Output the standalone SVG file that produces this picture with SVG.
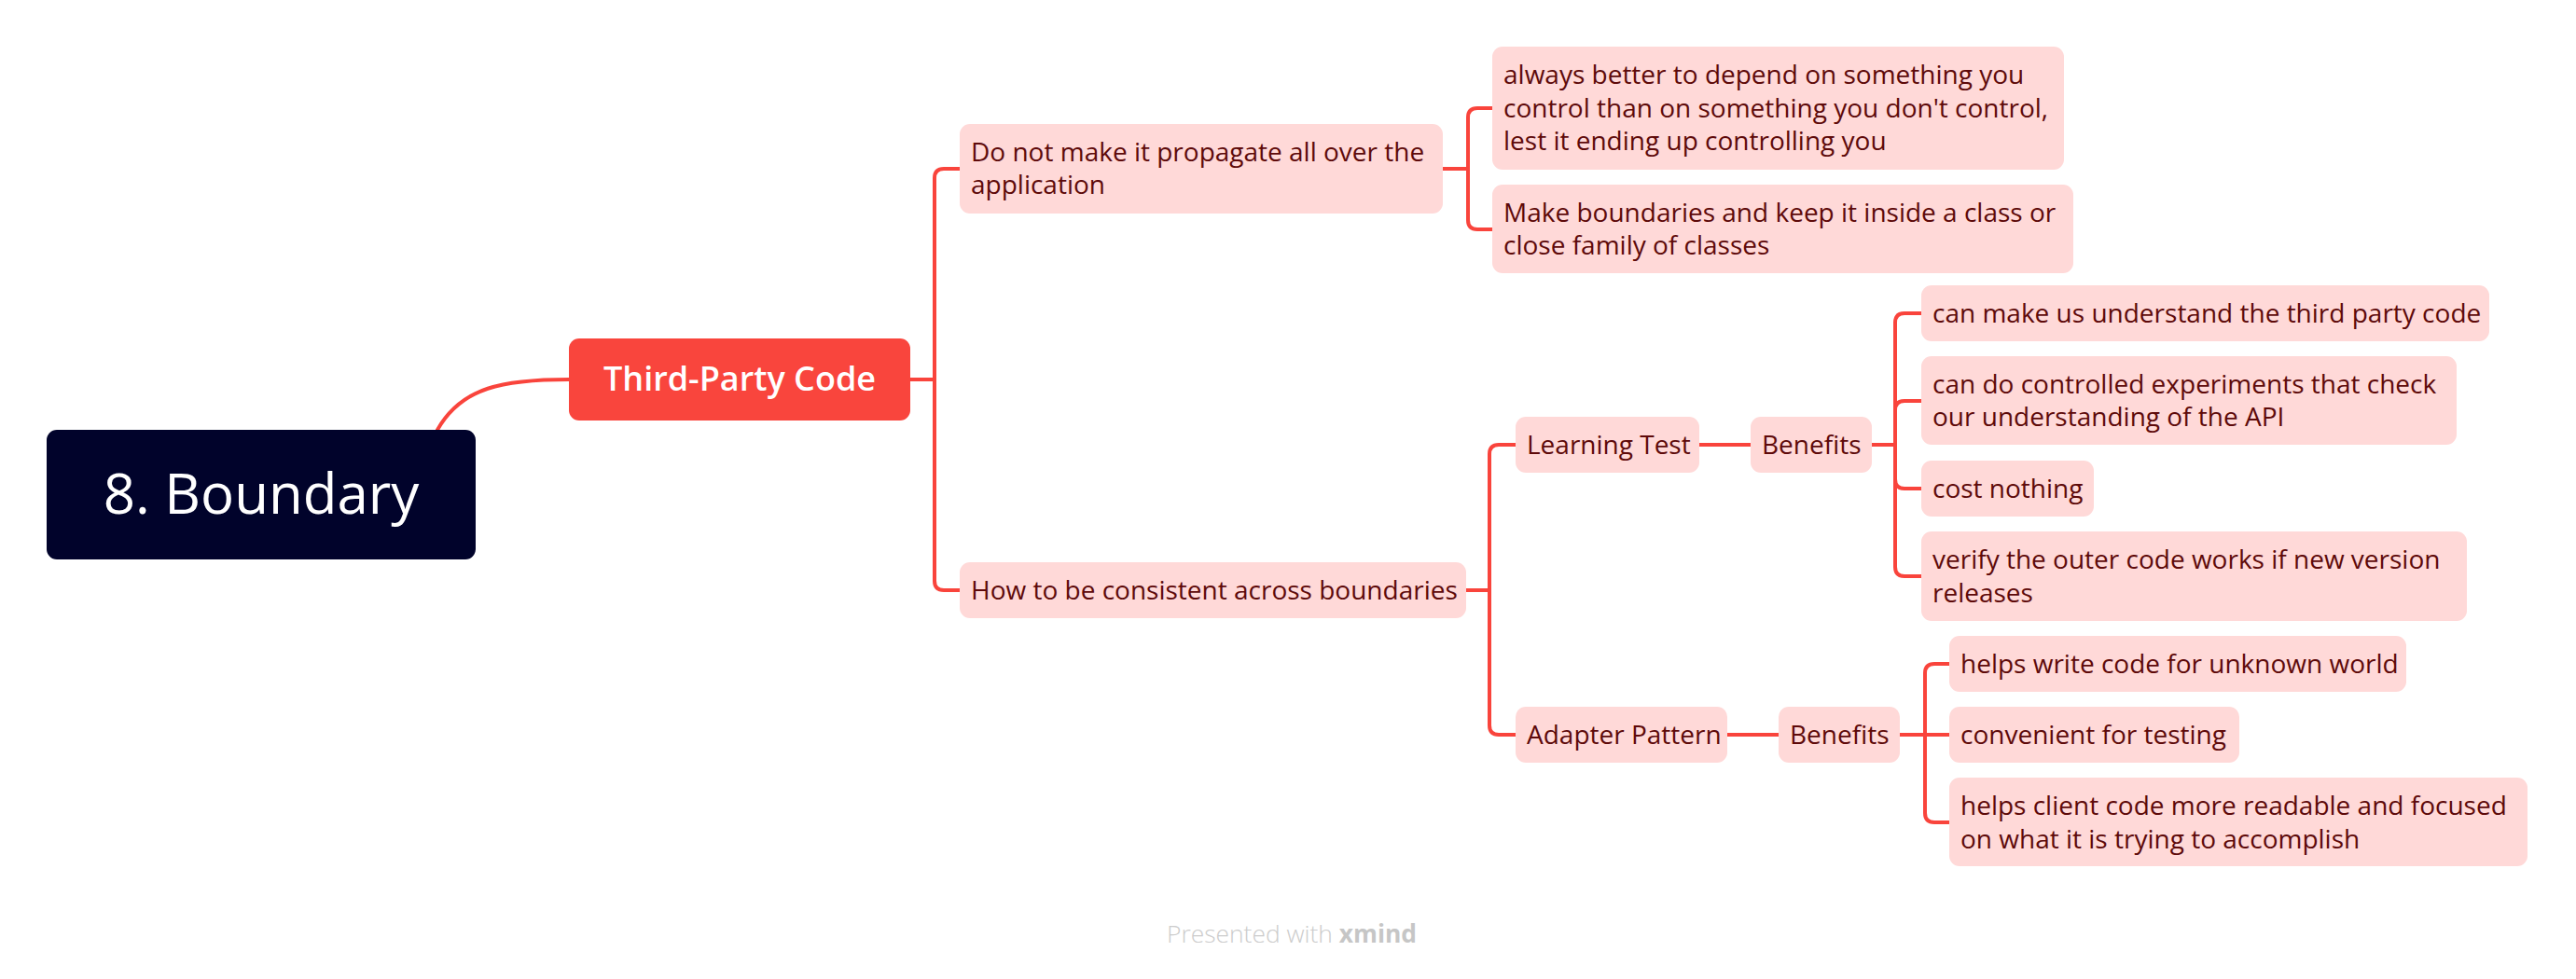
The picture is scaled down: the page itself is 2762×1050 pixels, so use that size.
<svg xmlns="http://www.w3.org/2000/svg" width="2762" height="1050" viewBox="0 0 2762 1050">
<style>
  text { font-family: "Open Sans", "Liberation Sans", sans-serif; }
  .box { fill: #ffd9d8; }
  .t { font-size: 28px; fill: #5e0a0a; }
  .c { fill: none; stroke: #f9443c; stroke-width: 4; stroke-linecap: round; stroke-linejoin: round; }
</style>
<rect width="2762" height="1050" fill="#ffffff"/>
<g id="connectors">
  <path class="c" d="M469 461 C495 415 540 407 610 407" stroke-width="5"/>
  <path class="c" d="M976 407 H1002 V191 Q1002 181 1012 181 H1029"/>
  <path class="c" d="M1002 407 V623 Q1002 633 1012 633 H1029"/>
  <path class="c" d="M1547 181 H1574 V126 Q1574 116 1584 116 H1600"/>
  <path class="c" d="M1574 181 V236 Q1574 246 1584 246 H1600"/>
  <path class="c" d="M1572 633 H1597 V487 Q1597 477 1607 477 H1625"/>
  <path class="c" d="M1597 633 V778 Q1597 788 1607 788 H1625"/>
  <path class="c" d="M1822 477 H1877"/>
  <path class="c" d="M2007 477 H2032 V346 Q2032 336 2042 336 H2060"/>
  <path class="c" d="M2032 477 V440 Q2032 430 2042 430 H2060"/>
  <path class="c" d="M2032 477 V514 Q2032 524 2042 524 H2060"/>
  <path class="c" d="M2032 477 V608 Q2032 618 2042 618 H2060"/>
  <path class="c" d="M1852 788 H1907"/>
  <path class="c" d="M2037 788 H2064 V722 Q2064 712 2074 712 H2090"/>
  <path class="c" d="M2064 788 H2090"/>
  <path class="c" d="M2064 788 V872 Q2064 882 2074 882 H2090"/>
</g>
<g id="root">
  <rect x="50" y="461" width="460" height="139" rx="11" fill="#01032b"/>
  <text x="280" y="551" text-anchor="middle" font-size="60" font-weight="500" fill="#ffffff">8. Boundary</text>
</g>
<g id="third-party">
  <rect x="610" y="363" width="366" height="88" rx="11" fill="#f9453d"/>
  <text x="793" y="419" text-anchor="middle" font-size="36" font-weight="600" fill="#ffffff">Third-Party Code</text>
</g>
<g id="do-not">
  <rect class="box" x="1029" y="133" width="518" height="96" rx="11"/>
  <text class="t" x="1041" y="173">Do not make it propagate all over the</text>
  <text class="t" x="1041" y="208">application</text>
</g>
<g id="how">
  <rect class="box" x="1029" y="603" width="543" height="60" rx="11"/>
  <text class="t" x="1041" y="643">How to be consistent across boundaries</text>
</g>
<g id="always">
  <rect class="box" x="1600" y="50" width="613" height="132" rx="11"/>
  <text class="t" x="1612" y="90">always better to depend on something you</text>
  <text class="t" x="1612" y="125.5">control than on something you don't control,</text>
  <text class="t" x="1612" y="161">lest it ending up controlling you</text>
</g>
<g id="make-boundaries">
  <rect class="box" x="1600" y="198" width="623" height="95" rx="11"/>
  <text class="t" x="1612" y="238">Make boundaries and keep it inside a class or</text>
  <text class="t" x="1612" y="273">close family of classes</text>
</g>
<g id="learning-test">
  <rect class="box" x="1625" y="447" width="197" height="60" rx="11"/>
  <text class="t" x="1637" y="487">Learning Test</text>
</g>
<g id="benefits-1">
  <rect class="box" x="1877" y="447" width="130" height="60" rx="11"/>
  <text class="t" x="1889" y="487">Benefits</text>
</g>
<g id="can-make">
  <rect class="box" x="2060" y="306" width="609" height="60" rx="11"/>
  <text class="t" x="2072" y="346">can make us understand the third party code</text>
</g>
<g id="can-do">
  <rect class="box" x="2060" y="382" width="574" height="95" rx="11"/>
  <text class="t" x="2072" y="422">can do controlled experiments that check</text>
  <text class="t" x="2072" y="457">our understanding of the API</text>
</g>
<g id="cost-nothing">
  <rect class="box" x="2060" y="494" width="185" height="60" rx="11"/>
  <text class="t" x="2072" y="534">cost nothing</text>
</g>
<g id="verify">
  <rect class="box" x="2060" y="570" width="585" height="96" rx="11"/>
  <text class="t" x="2072" y="610">verify the outer code works if new version</text>
  <text class="t" x="2072" y="645.5">releases</text>
</g>
<g id="adapter-pattern">
  <rect class="box" x="1625" y="758" width="227" height="60" rx="11"/>
  <text class="t" x="1637" y="798">Adapter Pattern</text>
</g>
<g id="benefits-2">
  <rect class="box" x="1907" y="758" width="130" height="60" rx="11"/>
  <text class="t" x="1919" y="798">Benefits</text>
</g>
<g id="helps-write">
  <rect class="box" x="2090" y="682" width="490" height="60" rx="11"/>
  <text class="t" x="2102" y="722">helps write code for unknown world</text>
</g>
<g id="convenient">
  <rect class="box" x="2090" y="758" width="311" height="60" rx="11"/>
  <text class="t" x="2102" y="798">convenient for testing</text>
</g>
<g id="helps-client">
  <rect class="box" x="2090" y="834" width="620" height="95" rx="11"/>
  <text class="t" x="2102" y="874">helps client code more readable and focused</text>
  <text class="t" x="2102" y="909.5">on what it is trying to accomplish</text>
</g>
<g id="footer">
  <text x="1251" y="1011" font-size="26.4" font-weight="300" fill="#cccccc">Presented with <tspan font-weight="700" fill="#c6c6c6">xmind</tspan></text>
</g>
</svg>
